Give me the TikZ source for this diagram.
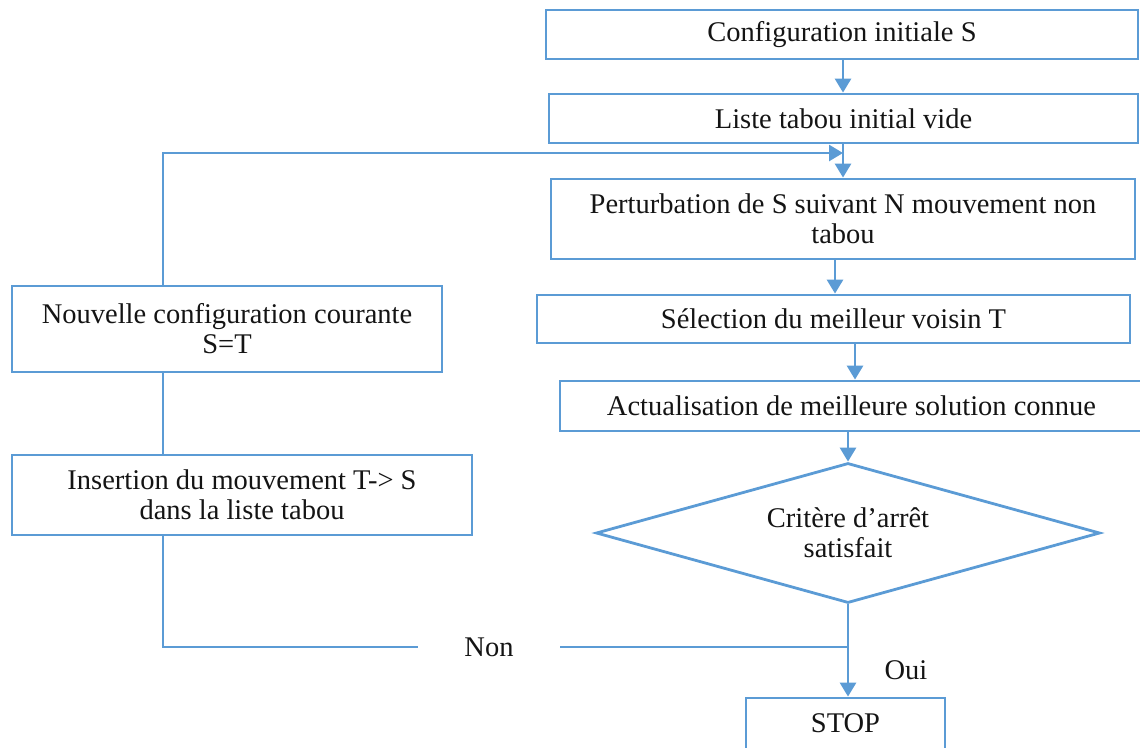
\documentclass[tikz,border=0pt]{standalone}
\usepackage{fontspec}
\setmainfont{Liberation Serif}
\usetikzlibrary{shapes.geometric,arrows.meta}
\definecolor{flowblue}{RGB}{91,155,213}
\definecolor{ink}{RGB}{20,20,20}
\begin{document}
\begin{tikzpicture}[x=1pt,y=-1pt,
  txt/.style={text=ink, font=\fontsize{28.5}{30}\selectfont, align=center, inner sep=0pt},
  box/.style={txt, draw=flowblue, line width=2.8pt, rectangle},
  decision/.style={txt, draw=flowblue, line width=2.8pt, diamond, aspect=3.6},
  link/.style={draw=flowblue, line width=2.8pt},
  flow/.style={link, -{Triangle[length=14pt,width=16pt]}}
]
\useasboundingbox (0,0) rectangle (1140,747);

% main column of steps
\node[box, minimum width=592pt, minimum height=49pt] (b1) at (842,34.5) {Configuration initiale S};
\node[box, minimum width=589pt, minimum height=49pt] (b2) at (843.5,118.5) {Liste tabou initial vide};
\node[box, minimum width=584pt, minimum height=80pt] (b3) at (843,219) {Perturbation de S suivant N mouvement non\\tabou};
\node[box, minimum width=593pt, minimum height=48pt] (b4) at (833.5,319) {Sélection du meilleur voisin T};
\node[box, minimum width=583pt, minimum height=50pt] (b5) at (851.5,406) {Actualisation de meilleure solution connue};
\node[decision, minimum width=504pt, minimum height=140pt] (dia) at (848,533) {Critère d'arrêt\\satisfait};
\node[box, minimum width=199pt, minimum height=51pt] (stop) at (845.5,723.5) {STOP};

% loop-back column
\node[box, minimum width=430pt, minimum height=86pt] (nouv) at (227,329) {Nouvelle configuration courante\\S=T};
\node[box, minimum width=460pt, minimum height=80pt] (ins) at (242,495) {Insertion du mouvement T-> S\\dans la liste tabou};

% branch labels
\node[txt, minimum width=142pt] (non) at (489,647) {Non};
\node[txt] (oui) at (906,670) {Oui};

% helper coordinates for vertical connectors
\coordinate (c1) at (843,0);
\coordinate (c3) at (835,0);
\coordinate (c4) at (855,0);
\coordinate (merge) at (843,153);
\coordinate (trunk) at (163,153);
\coordinate (split) at (848,647);

% forward flow
\draw[flow] (b1.south -| c1) -- (b2.north -| c1);
\draw[flow] (b2.south -| merge) -- (b3.north -| merge);
\draw[flow] (b3.south -| c3) -- (b4.north -| c3);
\draw[flow] (b4.south -| c4) -- (b5.north -| c4);
\draw[flow] (b5.south -| dia.north) -- (dia.north);
\draw[flow] (dia.south) -- (stop.north -| dia.south);

% "Non" branch back to the top of the loop
\draw[link] (split) -- (non.east);
\draw[link] (non.west) -- (non.west -| trunk) -- (ins.south -| trunk);
\draw[link] (ins.north -| trunk) -- (nouv.south -| trunk);
\draw[flow] (nouv.north -| trunk) -- (trunk) -- (merge);
\end{tikzpicture}
\end{document}
